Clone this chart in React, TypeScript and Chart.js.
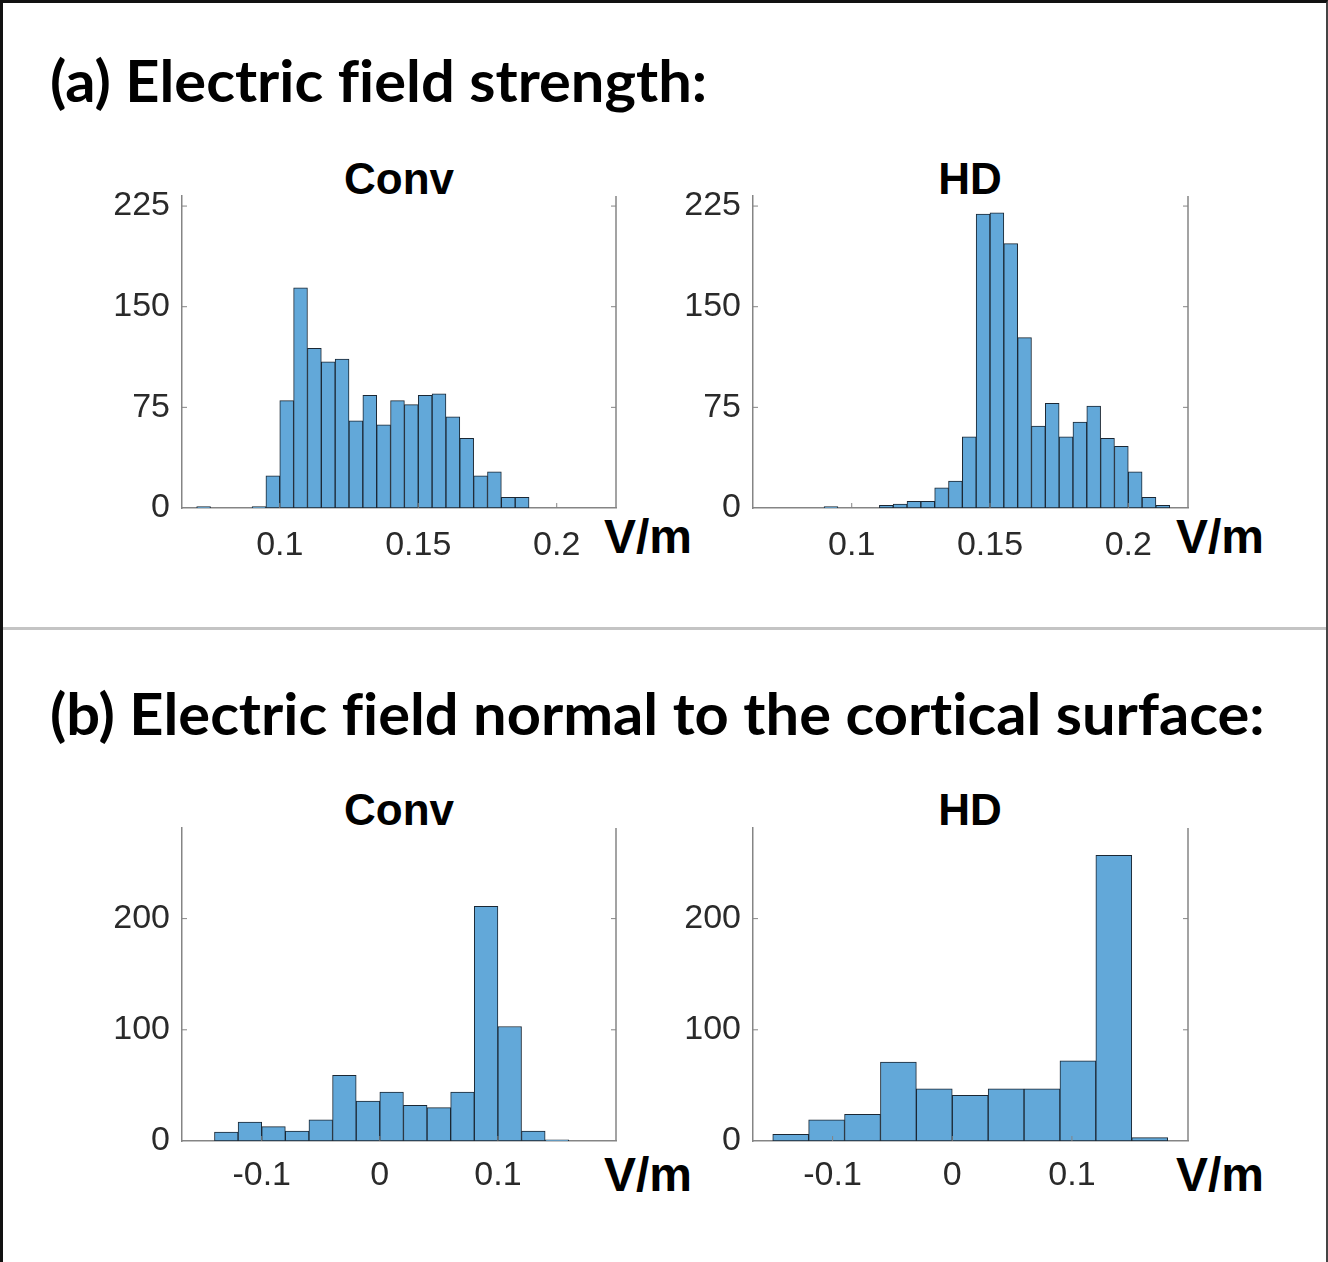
import React, { useEffect, useLayoutEffect, useRef, useMemo, useState } from 'react';
import { Chart, registerables } from 'chart.js';

Chart.register(...registerables);

// ---------- data ----------
// (a) electric field strength, bins of 0.005 V/m (left edges)
const strengthBinWidth = 0.005;
const strengthConvBinStarts = [0.070, 0.075, 0.080, 0.085, 0.090, 0.095, 0.100, 0.105, 0.110, 0.115, 0.120, 0.125, 0.130, 0.135, 0.140, 0.145, 0.150, 0.155, 0.160, 0.165, 0.170, 0.175, 0.180, 0.185];
const strengthConvCounts = [1, 0, 0, 0, 1, 24, 80, 164, 119, 109, 111, 65, 84, 62, 80, 77, 84, 85, 68, 52, 24, 27, 8, 8];
const strengthHdBinStarts = [0.090, 0.095, 0.100, 0.105, 0.110, 0.115, 0.120, 0.125, 0.130, 0.135, 0.140, 0.145, 0.150, 0.155, 0.160, 0.165, 0.170, 0.175, 0.180, 0.185, 0.190, 0.195, 0.200, 0.205, 0.210];
const strengthHdCounts = [1, 0, 0, 0, 2, 3, 5, 5, 15, 20, 53, 219, 220, 197, 127, 61, 78, 53, 64, 76, 52, 46, 27, 8, 2];

// (b) electric field normal to the cortical surface (left edges)
const normalConvBinWidth = 0.02;
const normalConvBinStarts = [-0.14, -0.12, -0.10, -0.08, -0.06, -0.04, -0.02, 0.0, 0.02, 0.04, 0.06, 0.08, 0.10, 0.12, 0.14];
const normalConvCounts = [8, 17, 13, 9, 19, 59, 36, 44, 32, 30, 44, 211, 103, 9, 1];
const normalHdBinWidth = 0.03;
const normalHdBinStarts = [-0.15, -0.12, -0.09, -0.06, -0.03, 0.0, 0.03, 0.06, 0.09, 0.12, 0.15];
const normalHdCounts = [6, 19, 24, 71, 47, 41, 47, 47, 72, 257, 3];

// ticks
const strengthYTicks = [0, 75, 150, 225];
const strengthYTickLabels = ['0', '75', '150', '225'];
const strengthXTicks = [0.1, 0.15, 0.2];
const strengthXTickLabels = ['0.1', '0.15', '0.2'];
const normalYTicks = [0, 100, 200];
const normalYTickLabels = ['0', '100', '200'];
const normalXTicks = [-0.1, 0, 0.1];
const normalXTickLabels = ['-0.1', '0', '0.1'];

// texts
const panelTitles = ['(a) Electric field strength:', '(b) Electric field normal to the cortical surface:'];
const subplotTitles = ['Conv', 'HD'];
const unitLabel = 'V/m';

// ---------- styles ----------
const BAR_FILL = 'rgb(98,168,217)';
const BAR_EDGE = '#1b2733';
const AXIS_COLOR = '#858585';
const TICK_COLOR = '#2a2a2a';
const TICK_FONT = '"Liberation Sans", Arial, Helvetica, sans-serif';
const TICK_SIZE = 34;
const M_L = 110;
const M_T = 40;
const M_R = 15;
const M_B = 60;

const framePlugin = {
  id: 'matlabFrame',
  afterDraw(chart: any) {
    const { ctx, chartArea: a, scales } = chart;
    ctx.save();
    ctx.strokeStyle = AXIS_COLOR;
    ctx.lineWidth = 1.5;
    ctx.beginPath();
    ctx.moveTo(a.right, a.top);
    ctx.lineTo(a.right, a.bottom);
    ctx.stroke();
    ctx.lineWidth = 1;
    ctx.beginPath();
    scales.y.ticks.forEach((t: any) => {
      const py = scales.y.getPixelForValue(t.value);
      if (Math.abs(py - a.bottom) < 2) return;
      ctx.moveTo(a.left, py);
      ctx.lineTo(a.left + 5, py);
      ctx.moveTo(a.right, py);
      ctx.lineTo(a.right - 5, py);
    });
    scales.x.ticks.forEach((t: any) => {
      const px = scales.x.getPixelForValue(t.value);
      ctx.moveTo(px, a.bottom);
      ctx.lineTo(px, a.bottom - 5);
    });
    ctx.stroke();
    ctx.restore();
  },
};

type HistProps = {
  starts: number[];
  counts: number[];
  binWidth: number;
  xMin: number;
  xMax: number;
  yMax: number;
  yTicks: number[];
  yLabels: string[];
  xTicks: number[];
  xLabels: string[];
  plotLeft: number;
  plotTop: number;
  plotRight: number;
  plotBottom: number;
  xPad: number;
};

function Histogram(p: HistProps) {
  const ref = useRef<HTMLCanvasElement | null>(null);
  const w = p.plotRight - p.plotLeft + M_L + M_R;
  const h = p.plotBottom - p.plotTop + M_T + M_B;
  useEffect(() => {
    if (!ref.current) return;
    const labelFor = (ticks: number[], labels: string[]) => (v: any) => {
      const i = ticks.findIndex((t) => Math.abs(t - Number(v)) < 1e-9);
      return i >= 0 ? labels[i] : '';
    };
    const chart = new Chart(ref.current, {
      type: 'bar',
      data: {
        datasets: [
          {
            data: p.starts.map((s, i) => ({ x: s + p.binWidth / 2, y: p.counts[i] })),
            backgroundColor: BAR_FILL,
            borderColor: BAR_EDGE,
            borderWidth: 1,
            borderSkipped: false,
            barPercentage: 1,
            categoryPercentage: 1,
          } as any,
        ],
      },
      options: {
        responsive: false,
        animation: false,
        devicePixelRatio: 1,
        layout: { padding: { top: M_T, right: M_R, left: 0, bottom: 0 } },
        plugins: {
          legend: { display: false },
          tooltip: { enabled: false },
          title: { display: false },
        },
        scales: {
          x: {
            type: 'linear',
            min: p.xMin,
            max: p.xMax,
            offset: false,
            grid: { display: false, drawTicks: false, offset: false },
            border: { display: true, color: AXIS_COLOR, width: 1.5 },
            afterBuildTicks: (s: any) => {
              s.ticks = p.xTicks.map((v) => ({ value: v }));
            },
            afterFit: (s: any) => {
              s.height = M_B;
            },
            ticks: {
              autoSkip: false,
              maxRotation: 0,
              minRotation: 0,
              padding: p.xPad,
              color: TICK_COLOR,
              font: { family: TICK_FONT, size: TICK_SIZE },
              callback: labelFor(p.xTicks, p.xLabels),
            },
          },
          y: {
            type: 'linear',
            min: 0,
            max: p.yMax,
            grid: { display: false, drawTicks: false },
            border: { display: true, color: AXIS_COLOR, width: 1.5 },
            afterBuildTicks: (s: any) => {
              s.ticks = p.yTicks.map((v) => ({ value: v }));
            },
            afterFit: (s: any) => {
              s.width = M_L;
            },
            ticks: {
              autoSkip: false,
              padding: 12,
              color: TICK_COLOR,
              font: { family: TICK_FONT, size: TICK_SIZE },
              callback: labelFor(p.yTicks, p.yLabels),
            },
          },
        },
      } as any,
      plugins: [framePlugin],
    });
    return () => chart.destroy();
  }, []);
  return (
    <canvas
      ref={ref}
      width={w}
      height={h}
      style={{ position: 'absolute', left: p.plotLeft - M_L, top: p.plotTop - M_T, width: w, height: h }}
    />
  );
}

type TextProps = {
  text: string;
  baseline: number;
  left?: number;
  center?: number;
  width?: number;
  family: string;
  size: number;
  weight?: string;
  color?: string;
};

function PlacedText({ text, baseline, left, center, width, family, size, weight = 'bold', color = '#000' }: TextProps) {
  const spanRef = useRef<HTMLDivElement | null>(null);
  const m = useMemo(() => {
    const ctx = document.createElement('canvas').getContext('2d') as CanvasRenderingContext2D;
    ctx.font = `${weight} ${size}px ${family}`;
    const mt = ctx.measureText(text);
    const a = (mt as any).fontBoundingBoxAscent ?? size * 0.9;
    const d = (mt as any).fontBoundingBoxDescent ?? size * 0.22;
    return { w: mt.width, a, d };
  }, [text, family, size, weight]);
  const [natW, setNatW] = useState<number>(m.w);
  useLayoutEffect(() => {
    if (spanRef.current) {
      const ow = spanRef.current.offsetWidth;
      if (ow > 0 && Math.abs(ow - natW) > 0.5) setNatW(ow);
    }
  }, [text]);
  const sx = width ? width / natW : 1;
  const lh = Math.round(size * 1.3);
  const top = baseline - ((lh - (m.a + m.d)) / 2 + m.a);
  const x = center != null ? center - (natW * sx) / 2 : (left as number);
  return (
    <div
      ref={spanRef}
      style={{
        position: 'absolute',
        left: x,
        top,
        font: `${weight} ${size}px ${family}`,
        fontVariantLigatures: 'none',
        lineHeight: `${lh}px`,
        whiteSpace: 'nowrap',
        color,
        transform: `scaleX(${sx})`,
        transformOrigin: 'left top',
      }}
    >
      {text}
    </div>
  );
}

const TITLE_FONT = 'Lato, "Open Sans", sans-serif';
const SUB_FONT = '"Liberation Sans", Arial, Helvetica, sans-serif';

export default function App() {
  return (
    <div
      style={{
        position: 'absolute',
        left: 0,
        top: 0,
        width: 1328,
        height: 1262,
        background: '#fff',
        overflow: 'hidden',
      }}
    >
      {/* outer frame */}
      <div
        style={{
          position: 'absolute',
          left: 0,
          top: 0,
          width: 1323,
          height: 1262,
          borderLeft: '3px solid #111',
          borderTop: '3px solid #111',
          borderRight: '2px solid #444',
        }}
      />
      {/* divider */}
      <div style={{ position: 'absolute', left: 3, top: 627, width: 1323, height: 3, background: '#c4c4c4' }} />

      <PlacedText text={panelTitles[0]} left={50} baseline={102} width={657} family={TITLE_FONT} size={57} />
      <PlacedText text={panelTitles[1]} left={50} baseline={735} width={1215} family={TITLE_FONT} size={57} />

      <PlacedText text={subplotTitles[0]} center={399} baseline={194} family={SUB_FONT} size={44} />
      <PlacedText text={subplotTitles[1]} center={970} baseline={194} family={SUB_FONT} size={44} />
      <PlacedText text={subplotTitles[0]} center={399} baseline={825} family={SUB_FONT} size={44} />
      <PlacedText text={subplotTitles[1]} center={970} baseline={825} family={SUB_FONT} size={44} />

      <PlacedText text={unitLabel} center={648} baseline={553} family={SUB_FONT} size={48} />
      <PlacedText text={unitLabel} center={1220} baseline={553} family={SUB_FONT} size={48} />
      <PlacedText text={unitLabel} center={648} baseline={1191} family={SUB_FONT} size={48} />
      <PlacedText text={unitLabel} center={1220} baseline={1191} family={SUB_FONT} size={48} />

      <Histogram
        starts={strengthConvBinStarts}
        counts={strengthConvCounts}
        binWidth={strengthBinWidth}
        xMin={0.0647}
        xMax={0.2214}
        yMax={232.5}
        yTicks={strengthYTicks}
        yLabels={strengthYTickLabels}
        xTicks={strengthXTicks}
        xLabels={strengthXTickLabels}
        plotLeft={182}
        plotTop={196}
        plotRight={616}
        plotBottom={508}
        xPad={17}
      />
      <Histogram
        starts={strengthHdBinStarts}
        counts={strengthHdCounts}
        binWidth={strengthBinWidth}
        xMin={0.0643}
        xMax={0.2216}
        yMax={232.5}
        yTicks={strengthYTicks}
        yLabels={strengthYTickLabels}
        xTicks={strengthXTicks}
        xLabels={strengthXTickLabels}
        plotLeft={753}
        plotTop={196}
        plotRight={1188}
        plotBottom={508}
        xPad={17}
      />
      <Histogram
        starts={normalConvBinStarts}
        counts={normalConvCounts}
        binWidth={normalConvBinWidth}
        xMin={-0.1675}
        xMax={0.2}
        yMax={281.5}
        yTicks={normalYTicks}
        yLabels={normalYTickLabels}
        xTicks={normalXTicks}
        xLabels={normalXTickLabels}
        plotLeft={182}
        plotTop={828}
        plotRight={616}
        plotBottom={1141}
        xPad={14}
      />
      <Histogram
        starts={normalHdBinStarts}
        counts={normalHdCounts}
        binWidth={normalHdBinWidth}
        xMin={-0.1665}
        xMax={0.197}
        yMax={281.5}
        yTicks={normalYTicks}
        yLabels={normalYTickLabels}
        xTicks={normalXTicks}
        xLabels={normalXTickLabels}
        plotLeft={753}
        plotTop={828}
        plotRight={1188}
        plotBottom={1141}
        xPad={14}
      />
    </div>
  );
}
